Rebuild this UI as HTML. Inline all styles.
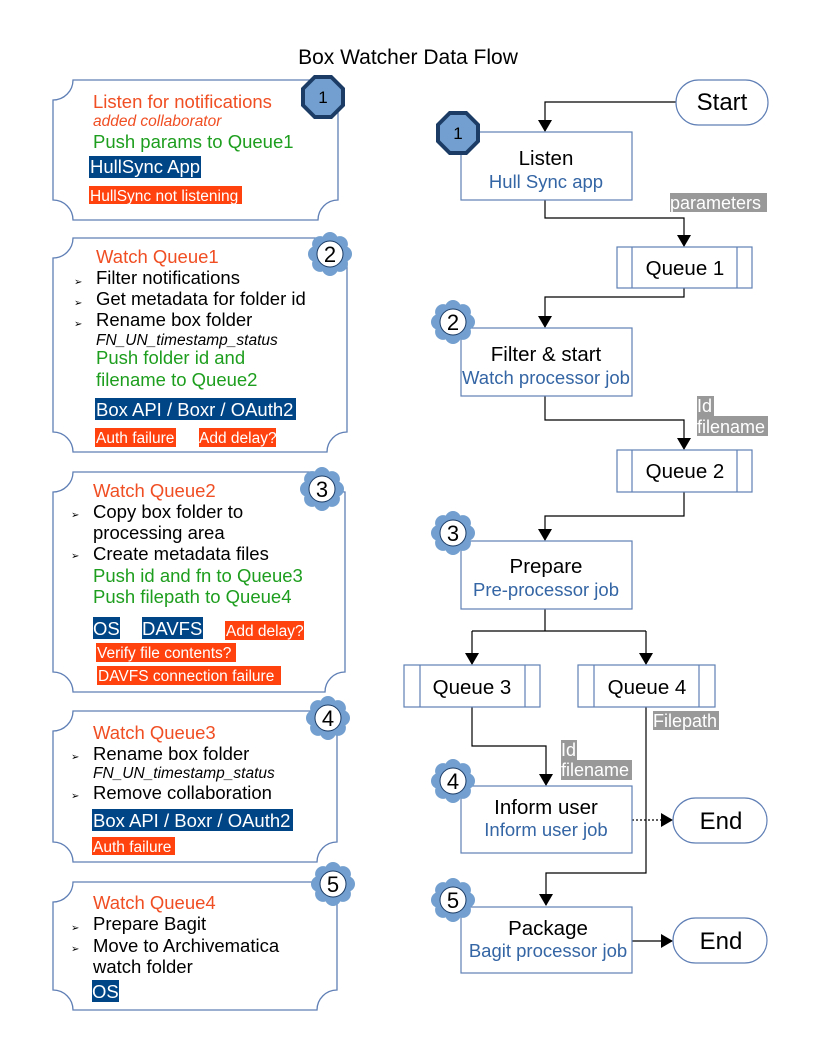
<!DOCTYPE html>
<html><head><meta charset="utf-8"><style>
body{margin:0;background:#fff}
svg{display:block;font-family:"Liberation Sans",sans-serif}
</style></head><body>
<svg width="816" height="1056" viewBox="0 0 816 1056" xmlns="http://www.w3.org/2000/svg">
<defs>
<marker id="ar" markerWidth="12" markerHeight="14" refX="11" refY="7" orient="auto" markerUnits="userSpaceOnUse"><path d="M0,0 L12,7 L0,14 Z" fill="#000"/></marker>
<g id="flw">
<circle r="17" fill="#729fcf"/>
<circle cx="14" cy="0" r="8" fill="#729fcf"/><circle cx="-14" cy="0" r="8" fill="#729fcf"/>
<circle cx="0" cy="14" r="8" fill="#729fcf"/><circle cx="0" cy="-14" r="8" fill="#729fcf"/>
<circle cx="9.9" cy="9.9" r="8" fill="#729fcf"/><circle cx="-9.9" cy="9.9" r="8" fill="#729fcf"/>
<circle cx="9.9" cy="-9.9" r="8" fill="#729fcf"/><circle cx="-9.9" cy="-9.9" r="8" fill="#729fcf"/>
<circle r="13" fill="#fff" stroke="#1c3c66" stroke-width="1"/>
</g>
<g id="oct">
<polygon points="-9,-22 9,-22 22,-9 22,9 9,22 -9,22 -22,9 -22,-9" fill="#1c3c66"/>
<polygon points="-7.5,-18 7.5,-18 18,-7.5 18,7.5 7.5,18 -7.5,18 -18,7.5 -18,-7.5" fill="#729fcf"/>
</g>
</defs>

<text x="408" y="64" font-size="21" text-anchor="middle">Box Watcher Data Flow</text>

<g fill="#fff" stroke="#5f7fb5" stroke-width="1.3">
<path d="M73,80 L318,80 A20,20 0 0 0 338,100 L338,200 A20,20 0 0 0 318,220 L73,220 A20,20 0 0 0 53,200 L53,100 A20,20 0 0 0 73,80 Z"/>
<path d="M73,238 L327,238 A20,20 0 0 0 347,258 L347,432 A20,20 0 0 0 327,452 L73,452 A20,20 0 0 0 53,432 L53,258 A20,20 0 0 0 73,238 Z"/>
<path d="M73,472 L325,472 A20,20 0 0 0 345,492 L345,672 A20,20 0 0 0 325,692 L73,692 A20,20 0 0 0 53,672 L53,492 A20,20 0 0 0 73,472 Z"/>
<path d="M73,711 L317,711 A20,20 0 0 0 337,731 L337,842 A20,20 0 0 0 317,862 L73,862 A20,20 0 0 0 53,842 L53,731 A20,20 0 0 0 73,711 Z"/>
<path d="M73,882 L317,882 A20,20 0 0 0 337,902 L337,990 A20,20 0 0 0 317,1010 L73,1010 A20,20 0 0 0 53,990 L53,902 A20,20 0 0 0 73,882 Z"/>
</g>

<g font-size="18.5">
<text x="93" y="108" fill="#f04e23">Listen for notifications</text>
<text x="93" y="126" fill="#f04e23" font-size="15.5" font-style="italic">added collaborator</text>
<text x="93" y="148" fill="#1e9e1e">Push params to Queue1</text>
<rect x="89" y="156" width="112" height="22" fill="#004586"/>
<text x="90" y="173" fill="#fff">HullSync App</text>
<rect x="89" y="186" width="153" height="18" fill="#ff420e"/>
<text x="90" y="201" fill="#fff" font-size="15.5">HullSync not listening</text>

<text x="96" y="263" fill="#f04e23">Watch Queue1</text>
<g fill="#000">
<text x="96" y="284">Filter notifications</text>
<text x="96" y="305">Get metadata for folder id</text>
<text x="96" y="326">Rename box folder</text>
<text x="96" y="345" font-size="15.5" font-style="italic">FN_UN_timestamp_status</text>
</g>
<g font-size="10" fill="#000"><text x="74" y="285">➢</text><text x="74" y="306">➢</text><text x="74" y="327">➢</text></g>
<text x="96" y="364" fill="#1e9e1e">Push folder id and</text>
<text x="96" y="386" fill="#1e9e1e">filename to Queue2</text>
<rect x="95" y="398" width="201" height="22" fill="#004586"/>
<text x="96" y="416" fill="#fff">Box API / Boxr / OAuth2</text>
<rect x="95" y="428" width="81" height="19" fill="#ff420e"/>
<text x="96" y="443" fill="#fff" font-size="15.5">Auth failure</text>
<rect x="199" y="428" width="77" height="19" fill="#ff420e"/>
<text x="199" y="443" fill="#fff" font-size="15.5">Add delay?</text>

<text x="93" y="497" fill="#f04e23">Watch Queue2</text>
<g fill="#000">
<text x="93" y="518">Copy box folder to</text>
<text x="93" y="539">processing area</text>
<text x="93" y="560">Create metadata files</text>
</g>
<g font-size="10" fill="#000"><text x="71" y="518">➢</text><text x="71" y="559">➢</text></g>
<text x="93" y="582" fill="#1e9e1e">Push id and fn to Queue3</text>
<text x="93" y="603" fill="#1e9e1e">Push filepath to Queue4</text>
<rect x="93" y="617" width="27" height="22" fill="#004586"/>
<text x="93" y="635" fill="#fff">OS</text>
<rect x="142" y="617" width="61" height="22" fill="#004586"/>
<text x="142" y="635" fill="#fff">DAVFS</text>
<rect x="225" y="621" width="79" height="19" fill="#ff420e"/>
<text x="226" y="636" fill="#fff" font-size="15.5">Add delay?</text>
<rect x="96" y="643" width="140" height="19" fill="#ff420e"/>
<text x="97" y="658" fill="#fff" font-size="15.5">Verify file contents?</text>
<rect x="97" y="666" width="184" height="19" fill="#ff420e"/>
<text x="98" y="681" fill="#fff" font-size="15.5">DAVFS connection failure</text>

<text x="93" y="739" fill="#f04e23">Watch Queue3</text>
<text x="93" y="760" fill="#000">Rename box folder</text>
<text x="93" y="778" fill="#000" font-size="15.5" font-style="italic">FN_UN_timestamp_status</text>
<text x="93" y="799" fill="#000">Remove collaboration</text>
<g font-size="10" fill="#000"><text x="71" y="760">➢</text><text x="71" y="799">➢</text></g>
<rect x="92" y="809" width="201" height="22" fill="#004586"/>
<text x="93" y="827" fill="#fff">Box API / Boxr / OAuth2</text>
<rect x="92" y="837" width="83" height="18" fill="#ff420e"/>
<text x="93" y="852" fill="#fff" font-size="15.5">Auth failure</text>

<text x="93" y="909" fill="#f04e23">Watch Queue4</text>
<text x="93" y="930" fill="#000">Prepare Bagit</text>
<text x="93" y="952" fill="#000">Move to Archivematica</text>
<text x="93" y="973" fill="#000">watch folder</text>
<g font-size="10" fill="#000"><text x="71" y="931">➢</text><text x="71" y="952">➢</text></g>
<rect x="92" y="980" width="27" height="22" fill="#004586"/>
<text x="92" y="998" fill="#fff">OS</text>
</g>

<use href="#oct" x="323" y="97"/>
<text x="323" y="103" font-size="17" text-anchor="middle">1</text>
<g font-size="22" text-anchor="middle">
<use href="#flw" x="330" y="254"/><text x="330" y="262">2</text>
<use href="#flw" x="322" y="489"/><text x="322" y="497">3</text>
<use href="#flw" x="328" y="718"/><text x="328" y="726">4</text>
<use href="#flw" x="333" y="884"/><text x="333" y="892">5</text>
</g>

<g fill="none" stroke="#000" stroke-width="1.2">
<path d="M676,102 L545,102 L545,131" marker-end="url(#ar)"/>
<path d="M545,200 L545,218 L684,218 L684,246" marker-end="url(#ar)"/>
<path d="M684,288 L684,297 L545,297 L545,327" marker-end="url(#ar)"/>
<path d="M545,396 L545,420 L684,420 L684,449" marker-end="url(#ar)"/>
<path d="M684,492 L684,516 L545,516 L545,540" marker-end="url(#ar)"/>
<path d="M545,609 L545,631"/>
<path d="M472,631 L646,631"/>
<path d="M472,631 L472,664" marker-end="url(#ar)"/>
<path d="M646,631 L646,664" marker-end="url(#ar)"/>
<path d="M472,707 L472,746 L546,746 L546,785" marker-end="url(#ar)"/>
<path d="M646,707 L646,873 L546,873 L546,905" marker-end="url(#ar)"/>
<path d="M632,820 L672,820" stroke-dasharray="2,2" marker-end="url(#ar)"/>
<path d="M632,941 L672,941" marker-end="url(#ar)"/>
</g>

<g fill="#fff" stroke="#5f7fb5" stroke-width="1.2">
<rect x="676" y="80" width="92" height="45" rx="22.5"/>
<rect x="461" y="132" width="171" height="68"/>
<rect x="617" y="247" width="135" height="41"/>
<line x1="632" y1="247" x2="632" y2="288"/><line x1="737" y1="247" x2="737" y2="288"/>
<rect x="461" y="328" width="171" height="68"/>
<rect x="617" y="450" width="135" height="42"/>
<line x1="632" y1="450" x2="632" y2="492"/><line x1="737" y1="450" x2="737" y2="492"/>
<rect x="461" y="541" width="171" height="68"/>
<rect x="404" y="665" width="136" height="42"/>
<line x1="420" y1="665" x2="420" y2="707"/><line x1="525" y1="665" x2="525" y2="707"/>
<rect x="578" y="665" width="137" height="42"/>
<line x1="594" y1="665" x2="594" y2="707"/><line x1="699" y1="665" x2="699" y2="707"/>
<rect x="461" y="786" width="171" height="67"/>
<rect x="673" y="798" width="94" height="45" rx="22.5"/>
<rect x="461" y="907" width="171" height="66"/>
<rect x="673" y="918" width="94" height="45" rx="22.5"/>
</g>

<g font-size="20.5" text-anchor="middle">
<text x="722" y="110" font-size="24">Start</text>
<text x="546" y="165">Listen</text>
<text x="546" y="188" fill="#3465a4" font-size="18.5">Hull Sync app</text>
<text x="685" y="275">Queue 1</text>
<text x="546" y="361">Filter &amp; start</text>
<text x="546" y="384" fill="#3465a4" font-size="18.5">Watch processor job</text>
<text x="685" y="478">Queue 2</text>
<text x="546" y="573">Prepare</text>
<text x="546" y="596" fill="#3465a4" font-size="18.5">Pre-processor job</text>
<text x="472" y="694">Queue 3</text>
<text x="647" y="694">Queue 4</text>
<text x="546" y="814">Inform user</text>
<text x="546" y="836" fill="#3465a4" font-size="18.5">Inform user job</text>
<text x="721" y="829" font-size="24">End</text>
<text x="548" y="935">Package</text>
<text x="548" y="957" fill="#3465a4" font-size="18.5">Bagit processor job</text>
<text x="721" y="949" font-size="24">End</text>
</g>

<g font-size="18" fill="#fff">
<rect x="670" y="193" width="97" height="19" fill="#999"/>
<text x="670" y="209">parameters</text>
<rect x="697" y="396" width="17" height="20" fill="#999"/>
<rect x="697" y="416" width="71" height="20" fill="#999"/>
<text x="697" y="412">Id</text><text x="697" y="433">filename</text>
<rect x="653" y="711" width="66" height="19" fill="#999"/>
<text x="653" y="727">Filepath</text>
<rect x="561" y="740" width="16" height="20" fill="#999"/>
<rect x="561" y="760" width="71" height="20" fill="#999"/>
<text x="561" y="756">Id</text><text x="561" y="776">filename</text>
</g>

<use href="#oct" x="458" y="133"/>
<text x="458" y="139" font-size="17" text-anchor="middle">1</text>
<g font-size="22" text-anchor="middle">
<use href="#flw" x="453" y="322"/><text x="453" y="330">2</text>
<use href="#flw" x="453" y="533"/><text x="453" y="541">3</text>
<use href="#flw" x="453" y="781"/><text x="453" y="789">4</text>
<use href="#flw" x="453" y="900"/><text x="453" y="908">5</text>
</g>
</svg>
</body></html>
